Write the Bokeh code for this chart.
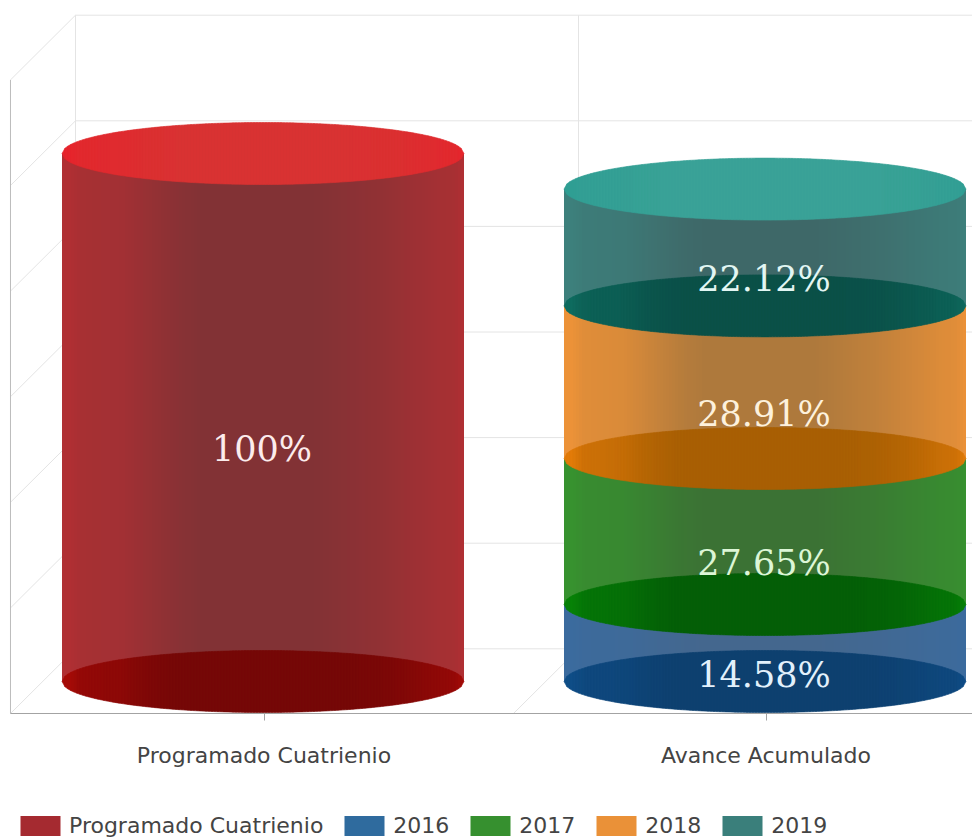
import numpy as np
from bokeh.core.properties import value
from bokeh.embed import file_html
from bokeh.models import FixedTicker, Legend, LegendItem, Range1d
from bokeh.plotting import figure
from bokeh.resources import INLINE

# ---- data
categories = ["Programado Cuatrienio", "Avance Acumulado"]
series_names = ["Programado Cuatrienio", "2016", "2017", "2018", "2019"]
programado = [100.0]
avance = [14.58, 27.65, 28.91, 22.12]
programado_labels = ["100%"]
avance_labels = ["14.58%", "27.65%", "28.91%", "22.12%"]
grid_ticks = [0, 20, 40, 60, 80, 100, 120]

# ---- colours: (side edge, side middle, base edge, base middle, legend)
RED = ("#b02f33", "#823235", "#a50a06", "#750806", "#a52a30")
BLUE = ("#3b6b9e", "#44678e", "#0f4d87", "#0e406f", "#2f6b9e")
GREEN = ("#37922f", "#3b7234", "#068206", "#045e06", "#36902f")
ORANGE = ("#ec9238", "#ae793c", "#e27b08", "#a85f03", "#ea9138")
TEAL = ("#3d807c", "#3e6868", "#0e6b5f", "#0a5048", "#3a7f7b")
RED_TOP = ("#e6242c", "#d93232")
TEAL_TOP = ("#2f9e93", "#3aa297")
LABEL_TINTS = ["#e2f1fc", "#dcf6d6", "#fdf1dc", "#e2f6f3"]
RED_TINT = "#fcecec"

PX_X, PX_Y = 502.0, 5.28
BAR_W = 402 / PX_X
ELL_H = 31 / PX_Y
DEPTH_F = 32 / PX_Y
DEPTH_B = 32.7 / PX_Y
X_FRONT, X_BACK = -0.005, 0.1245
X_START = 0.5 - 263.5 / PX_X
X_END = X_START + 972 / PX_X
C1, C2 = 0.5 - 1 / PX_X, 1.5 - 1 / PX_X

p = figure(width=972, height=838, output_backend="svg", toolbar_location=None,
           x_range=Range1d(X_START, X_END),
           y_range=Range1d((681 - 838) / PX_Y, 681 / PX_Y),
           min_border_left=0, min_border_right=0, min_border_top=0, min_border_bottom=0,
           outline_line_color=None, background_fill_color="white")
p.styles = {"position": "absolute", "left": "0", "top": "0"}
p.grid.visible = False
p.yaxis.visible = False

ax = p.xaxis[0]
ax.fixed_location = -DEPTH_F
ax.bounds = (X_FRONT, X_END)
ax.ticker = FixedTicker(ticks=[0.5, 1.5])
ax.major_label_overrides = {0.5: categories[0], 1.5: categories[1]}
ax.axis_line_color = "#a3a3a3"
ax.major_tick_line_color = "#a3a3a3"
ax.major_tick_in = 0
ax.major_tick_out = 7
ax.minor_tick_line_color = None
ax.major_label_text_font = "DejaVu Sans"
ax.major_label_text_font_size = "22px"
ax.major_label_text_color = "#444444"
ax.major_label_standoff = 22

# ---- perspective grid
GRID = "#e4e4e4"
t = np.array(grid_ticks, dtype=float)
p.segment(x0=[X_BACK] * len(t), x1=[X_END] * len(t), y0=t + DEPTH_B, y1=t + DEPTH_B,
          line_color=GRID, line_width=1)
p.segment(x0=[X_FRONT] * len(t), x1=[X_BACK] * len(t), y0=t - DEPTH_F, y1=t + DEPTH_B,
          line_color=GRID, line_width=1)
p.segment(x0=[X_BACK, X_BACK + 1.002], x1=[X_BACK, X_BACK + 1.002],
          y0=[DEPTH_B] * 2, y1=[120 + DEPTH_B] * 2, line_color=GRID, line_width=1)
p.segment(x0=[X_FRONT + 1.002], x1=[X_BACK + 1.002], y0=[-DEPTH_F], y1=[DEPTH_B],
          line_color=GRID, line_width=1)
p.segment(x0=[X_FRONT], x1=[X_FRONT], y0=[-DEPTH_F], y1=[120 - DEPTH_F],
          line_color="#bdbdbd", line_width=1)

# ---- cylinders
STOP_T = [-1.0, -0.96, -0.9, -0.7, -0.4, -0.3, 0.25, 0.55, 0.88, 0.95, 1.0]
STOP_S = [1.0, 1.0, 0.8, 0.7, 0.12, 0.0, 0.0, 0.3, 0.75, 0.8, 1.0]


def rgb(h):
    return np.array([int(h[i:i + 2], 16) for i in (1, 3, 5)], dtype=float)


def shade(edge, mid, ts, gamma=1.0):
    s = (np.interp(ts, STOP_T, STOP_S) ** gamma)[:, None]
    c = rgb(mid) * (1 - s) + rgb(edge) * s
    return ["#%02x%02x%02x" % tuple(int(round(v)) for v in row) for row in c]


N = 134
edges = np.linspace(-1, 1, N + 1)
mids = (edges[:-1] + edges[1:]) / 2


def side(xc, y0, y1, edge, mid):
    half = BAR_W / 2
    lefts = xc + edges[:-1] * half
    rights = xc + (edges[1:] + 0.6 * (2 / N)) * half
    rights[-1] = xc + half
    p.quad(left=lefts, right=rights, bottom=[y0] * N, top=[y1] * N,
           fill_color=shade(edge, mid, mids), line_color=None)


def disc(xc, yc, edge, mid):
    half = BAR_W / 2
    xs, ys = [], []
    for a, b in zip(edges[:-1], edges[1:]):
        ha = ELL_H * np.sqrt(max(0, 1 - a * a))
        hb = ELL_H * np.sqrt(max(0, 1 - b * b))
        xs.append([xc + a * half, xc + b * half, xc + b * half, xc + a * half])
        ys.append([yc - ha, yc - hb, yc + hb, yc + ha])
    cols = shade(edge, mid, mids, 2.0)
    p.patches(xs, ys, fill_color=cols, line_color=cols, line_width=0.6)


# first column
side(C1, 0, programado[0], RED[0], RED[1])
disc(C1, 0, RED[2], RED[3])
disc(C1, programado[0], *RED_TOP)

# second column, stacked
base = 0.0
mids_y = []
for val, col in zip(avance, [BLUE, GREEN, ORANGE, TEAL]):
    side(C2, base, base + val, col[0], col[1])
    disc(C2, base, col[2], col[3])
    mids_y.append(base + val / 2)
    base += val
disc(C2, base, *TEAL_TOP)

# ---- data labels
label_kw = dict(text_font=value("DejaVu Serif"), text_font_size="35px",
                text_align="center", text_baseline="middle", y_offset=31.5, x_offset=-1)
p.text(x=[C1], y=[programado[0] / 2], text=programado_labels, text_color=RED_TINT, **label_kw)
p.text(x=[C2] * len(avance), y=mids_y, text=avance_labels, text_color=LABEL_TINTS, **label_kw)

# ---- legend (keys sit outside the visible ranges)
items = []
for name, col in zip(series_names, [RED, BLUE, GREEN, ORANGE, TEAL]):
    r = p.quad(left=[X_END + 1], right=[X_END + 2], bottom=[0], top=[1],
               fill_color=col[4], line_color=None)
    items.append(LegendItem(label=value(name), renderers=[r]))
legend = Legend(items=items, orientation="horizontal", location=(15, 0),
                glyph_width=50, glyph_height=25, label_standoff=4, spacing=16,
                padding=0, margin=0, border_line_color=None, background_fill_alpha=0,
                label_text_font="DejaVu Sans", label_text_font_size="22px",
                label_text_color="#444444", label_height=25)
p.add_layout(legend)

open("out.html", "w").write(file_html(p, INLINE))
